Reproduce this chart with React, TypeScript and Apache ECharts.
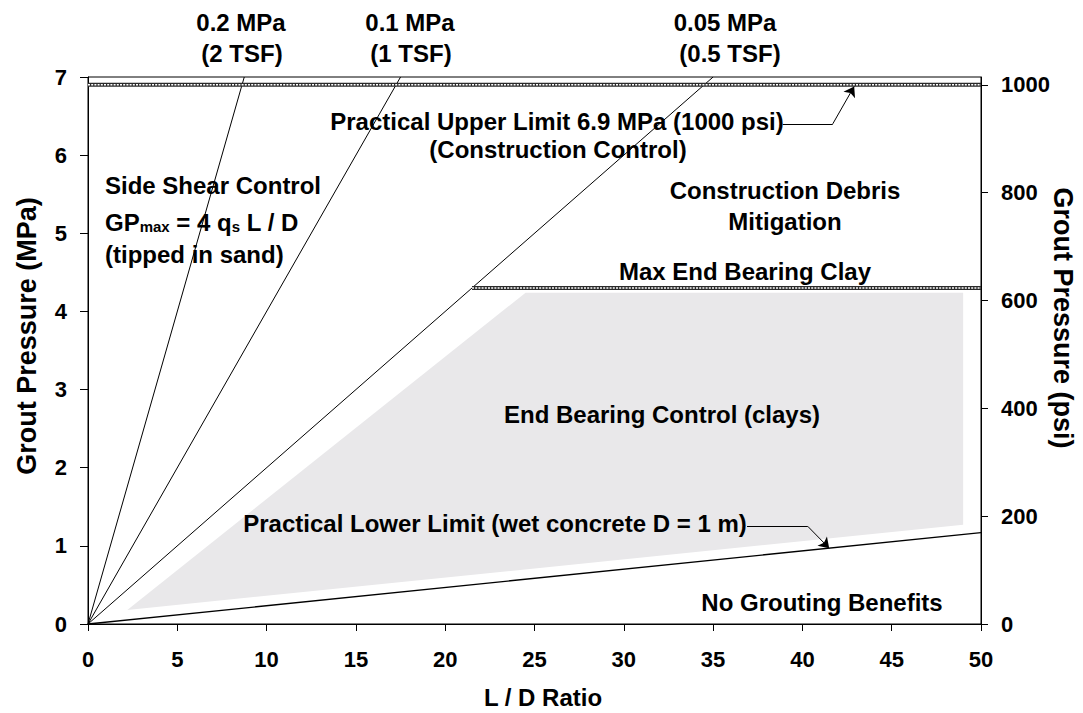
import React, { useEffect, useRef } from "react";
import * as echarts from "echarts";

// ---- data ----
const ldMin = 0;
const ldMax = 50;
const ldInterval = 5;
const mpaMin = 0;
const mpaMax = 7;
const psiTicks = [0, 200, 400, 600, 800, 1000];
const psiAxisMax = 1014.5; // 7 MPa expressed in psi (1000 psi = 6.9 MPa)

// side-shear control lines (GPmax = 4 qs L/D), end points where each meets 7 MPa
const shearLabels = ["0.2 MPa", "0.1 MPa", "0.05 MPa"];
const shearTsf = ["(2 TSF)", "(1 TSF)", "(0.5 TSF)"];
const shearEndLD = [8.75, 17.5, 35];
const shearEndGP = [7, 7, 7];

// practical lower limit line
const lowerLD = [0, 50];
const lowerGP = [0, 1.17];

// practical upper limit (6.9 MPa)
const upperLD = [0, 50];
const upperGP = [6.9, 6.9];

// max end bearing clay
const maxEbLD = [21.5, 50];
const maxEbGP = [4.3, 4.3];

// end bearing control zone (grey polygon)
const zoneLD = [2.2, 24.5, 49.0, 49.0];
const zoneGP = [0.18, 4.24, 4.24, 1.27];

// annotation arrows
const upperArrowLD = [38.9, 41.7, 42.9];
const upperArrowGP = [6.4, 6.4, 6.88];
const lowerArrowLD = [36.9, 40.3, 41.5];
const lowerArrowGP = [1.25, 1.25, 0.97];

const FONT = "Arial, 'Liberation Sans', sans-serif";

function pts(xs: number[], ys: number[]) {
  return xs.map((x, i) => [x, ys[i]]);
}

function chainSeries(name: string, xs: number[], ys: number[]) {
  return [
    {
      name: name + "-outer",
      type: "line",
      data: pts(xs, ys),
      symbol: "none",
      lineStyle: { color: "#2a2a2a", width: 4 },
      z: 4,
    },
    {
      name: name + "-inner",
      type: "line",
      data: pts(xs, ys),
      symbol: "none",
      lineStyle: { color: "#ffffff", width: 1.6, type: [2, 1.2] },
      z: 5,
    },
  ];
}

function txt(
  text: string,
  x: number,
  y: number,
  align: string = "center",
  size: number = 24,
  rotation: number = 0
) {
  return {
    type: "text",
    x,
    y,
    rotation,
    z: 20,
    style: {
      text,
      fill: "#000",
      font: `bold ${size}px ${FONT}`,
      align,
      verticalAlign: "middle",
      textAlign: align,
      textVerticalAlign: "middle",
    },
  };
}

export default function App() {
  const ref = useRef<HTMLDivElement>(null);

  useEffect(() => {
    if (!ref.current) return;
    const chart = echarts.init(ref.current, null, { renderer: "svg" });

    const arrowLine = (xs: number[], ys: number[]) => {
      const segs: any[] = [];
      for (let i = 0; i < xs.length - 1; i++) {
        segs.push({ coords: [[xs[i], ys[i]], [xs[i + 1], ys[i + 1]]] });
      }
      return segs;
    };
    const upperSegs = arrowLine(upperArrowLD, upperArrowGP);
    const lowerSegs = arrowLine(lowerArrowLD, lowerArrowGP);

    const labelStyle = {
      color: "#000",
      fontWeight: "bold" as const,
      fontSize: 22,
      fontFamily: FONT,
    };

    const option: any = {
      animation: false,
      backgroundColor: "#fff",
      grid: {
        left: 88,
        right: 102,
        top: 77,
        bottom: 89,
        show: true,
        borderColor: "#000",
        borderWidth: 1,
        backgroundColor: "transparent",
      },
      xAxis: {
        type: "value",
        min: ldMin,
        max: ldMax,
        interval: ldInterval,
        axisLine: { show: true, lineStyle: { color: "#000", width: 1 } },
        axisTick: { show: true, inside: false, length: 7, lineStyle: { color: "#000" } },
        axisLabel: { ...labelStyle, margin: 24 },
        splitLine: { show: false },
      },
      yAxis: [
        {
          type: "value",
          position: "left",
          min: mpaMin,
          max: mpaMax,
          interval: 1,
          axisLine: { show: true, lineStyle: { color: "#000", width: 1 } },
          axisTick: { show: true, inside: false, length: 8, lineStyle: { color: "#000" } },
          axisLabel: { ...labelStyle, margin: 21 },
          splitLine: { show: false },
        },
        {
          type: "value",
          position: "right",
          min: 0,
          max: psiAxisMax,
          axisLine: { show: true, lineStyle: { color: "#000", width: 1 } },
          axisTick: {
            show: true,
            inside: false,
            length: 7,
            lineStyle: { color: "#000" },
            customValues: psiTicks,
          },
          axisLabel: {
            ...labelStyle,
            margin: 20,
            customValues: psiTicks,
            formatter: (v: number) => String(Math.round(v)),
          },
          splitLine: { show: false },
        },
      ],
      series: [
        {
          type: "custom",
          name: "zone",
          data: [[0, 0]],
          z: 1,
          renderItem: (params: any, api: any) => {
            const points = zoneLD.map((x, i) => api.coord([x, zoneGP[i]]));
            return {
              type: "polygon",
              shape: { points },
              style: { fill: "#e9e8ea", stroke: "none" },
            };
          },
        },
        ...shearEndLD.map((x, i) => ({
          name: shearLabels[i],
          type: "line",
          data: [
            [0, 0],
            [x, shearEndGP[i]],
          ],
          symbol: "none",
          lineStyle: { color: "#000", width: 1 },
          z: 3,
        })),
        {
          name: "lower",
          type: "line",
          data: pts(lowerLD, lowerGP),
          symbol: "none",
          lineStyle: { color: "#000", width: 1.3 },
          z: 3,
        },
        ...chainSeries("upper", upperLD, upperGP),
        ...chainSeries("maxEb", maxEbLD, maxEbGP),
        {
          type: "lines",
          coordinateSystem: "cartesian2d",
          data: [upperSegs[0], lowerSegs[0]],
          symbol: ["none", "none"],
          lineStyle: { color: "#000", width: 1, opacity: 1, curveness: 0 },
          z: 6,
        },
        {
          type: "lines",
          coordinateSystem: "cartesian2d",
          data: [upperSegs[1], lowerSegs[1]],
          symbol: ["none", "arrow"],
          symbolSize: 10,
          lineStyle: { color: "#000", width: 1, opacity: 1, curveness: 0 },
          z: 6,
        },
      ],
      graphic: [
        txt(shearLabels[0], 241, 22),
        txt(shearTsf[0], 242, 53),
        txt(shearLabels[1], 410, 22),
        txt(shearTsf[1], 411, 53),
        txt(shearLabels[2], 725, 22),
        txt(shearTsf[2], 730, 53),
        txt("Practical Upper Limit 6.9 MPa (1000 psi)", 557, 121),
        txt("(Construction Control)", 558, 149),
        txt("Construction Debris", 785, 190),
        txt("Mitigation", 785, 221),
        txt("Side Shear Control", 105, 185, "left"),
        {
          type: "text",
          x: 105,
          y: 220,
          z: 20,
          style: {
            text: "{n|GP}{s|max}{n| = 4 q}{s|s}{n| L / D}",
            fill: "#000",
            font: `bold 24px ${FONT}`,
            align: "left",
            verticalAlign: "middle",
            textAlign: "left",
            textVerticalAlign: "middle",
            rich: {
              n: { fontSize: 24, fontWeight: "bold", fontFamily: FONT, lineHeight: 28, verticalAlign: "bottom" },
              s: { fontSize: 15, fontWeight: "bold", fontFamily: FONT, lineHeight: 13, verticalAlign: "bottom" },
            },
          },
        },
        txt("(tipped in sand)", 105, 254, "left"),
        txt("Max End Bearing Clay", 745, 271),
        txt("End Bearing Control (clays)", 662, 414),
        txt("Practical Lower Limit (wet concrete D = 1 m)", 495, 523),
        txt("No Grouting Benefits", 822, 602),
        txt("L / D Ratio", 543, 697),
        txt("Grout Pressure (MPa)", 27, 336, "center", 27, Math.PI / 2),
        txt("Grout Pressure (psi)", 1063, 318, "center", 27, -Math.PI / 2),
      ],
    };

    chart.setOption(option);
    return () => chart.dispose();
  }, []);

  return (
    <div
      ref={ref}
      style={{ position: "fixed", left: 0, top: 0, width: 1083, height: 713, background: "#fff" }}
    />
  );
}
